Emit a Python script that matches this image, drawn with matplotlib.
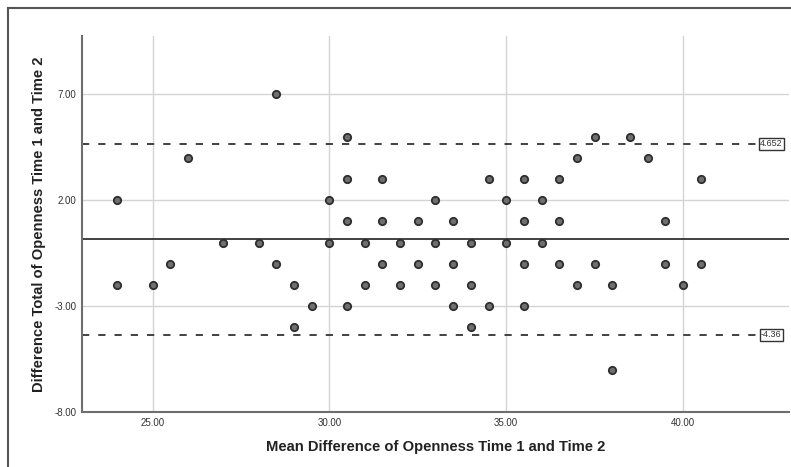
import matplotlib
matplotlib.use("Agg")
import matplotlib.pyplot as plt
from matplotlib.lines import Line2D

# Data
meanVals = [24, 28.5, 26, 30.5, 30.5, 31.5, 30, 30.5, 31.5,
            37.5, 38.5, 37, 39, 34.5, 35.5, 36.5, 40.5, 33, 35, 36,
            32.5, 33.5, 35.5, 36.5, 39.5,
            27, 28, 30, 31, 32, 33, 34, 35, 36,
            25.5, 28.5, 31.5, 32.5, 33.5, 35.5, 36.5, 37.5, 39.5, 40.5,
            24, 25, 29, 31, 32, 33, 34, 37, 38, 40,
            29.5, 30.5, 33.5, 34.5, 35.5,
            29, 34, 38]
diffVals = [2, 7, 4, 5, 3, 3, 2, 1, 1,
            5, 5, 4, 4, 3, 3, 3, 3, 2, 2, 2,
            1, 1, 1, 1, 1,
            0, 0, 0, 0, 0, 0, 0, 0, 0,
            -1, -1, -1, -1, -1, -1, -1, -1, -1, -1,
            -2, -2, -2, -2, -2, -2, -2, -2, -2, -2,
            -3, -3, -3, -3, -3,
            -4, -4, -6]

upperLim = 4.652
lowerLim = -4.36
meanDiff = (upperLim + lowerLim) / 2

xTicks = [25, 30, 35, 40]
yTicks = [-8, -3, 2, 7]

fig = plt.figure(figsize=(7.91, 4.67), dpi=100)
ax = fig.add_axes([82/791, 1 - 412/467, 707/791, 376/467])

# outer frame from the original export (cropped on right/bottom)
fig.add_artist(Line2D([8/791, 1], [1 - 8/467, 1 - 8/467], color="#555555", lw=1.5))
fig.add_artist(Line2D([8/791, 8/791], [0, 1 - 8/467], color="#555555", lw=1.5))

ax.set_xlim(23, 43)
ax.set_ylim(-8, 9.75)
ax.set_xticks(xTicks)
ax.set_yticks(yTicks)
ax.set_xticklabels(["%.2f" % t for t in xTicks])
ax.set_yticklabels(["%.2f" % t for t in yTicks])
ax.grid(True, color="#d4d4d4", lw=1.0)
ax.set_axisbelow(True)

for s in ["top", "right"]:
    ax.spines[s].set_visible(False)
for s in ["left", "bottom"]:
    ax.spines[s].set_color("#6e6e6e")
    ax.spines[s].set_linewidth(1.5)
ax.tick_params(length=0, labelsize=7, labelcolor="#333333", pad=4)
for lab in ax.get_xticklabels() + ax.get_yticklabels():
    lab.set_family("Liberation Sans")

ax.axhline(meanDiff, color="#333333", lw=1.3, zorder=2)
ax.plot([23, 42.1], [upperLim, upperLim], color="#333333", lw=1.3,
        dashes=(4, 5), zorder=2)
ax.plot([23, 42.1], [lowerLim, lowerLim], color="#333333", lw=1.3,
        dashes=(4, 5), zorder=2)

box = dict(boxstyle="square,pad=0.15", fc="white", ec="#333333", lw=1.0)
ax.text(42.5, upperLim, "%.3f" % upperLim, fontsize=6.5, ha="center", va="center",
        family="Liberation Sans", color="#333333", bbox=box, zorder=4)
ax.text(42.5, lowerLim, "%.2f" % lowerLim, fontsize=6.5, ha="center", va="center",
        family="Liberation Sans", color="#333333", bbox=box, zorder=4)

ax.scatter(meanVals, diffVals, s=28, c="#6f6f6f", edgecolors="#2e2e2e",
           linewidths=1.3, zorder=3)

ax.set_xlabel("Mean Difference of Openness Time 1 and Time 2", fontsize=10.6,
              fontweight="bold", family="Liberation Sans", color="#222222", labelpad=9)
ax.set_ylabel("Difference Total of Openness Time 1 and Time 2", fontsize=10.6,
              fontweight="bold", family="Liberation Sans", color="#222222", labelpad=6)

fig.savefig("out.png", dpi=100)
